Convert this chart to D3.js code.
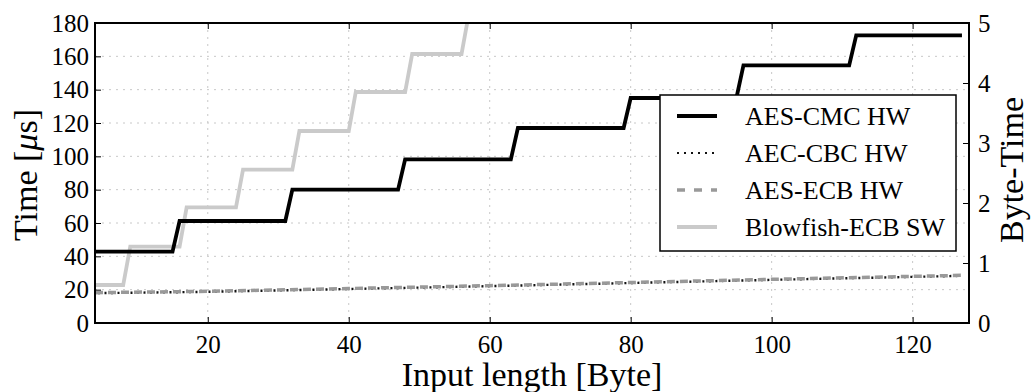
<!DOCTYPE html>
<html>
<head>
<meta charset="utf-8">
<script src="https://cdn.jsdelivr.net/npm/d3@7"></script>
<style>
  html, body { margin: 0; padding: 0; background: #fff; }
  svg text { font-family: "Liberation Serif", "Times New Roman", serif; fill: #000; }
</style>
</head>
<body>
<div id="chart"></div>
<script>
// values
var xTicks = [20, 40, 60, 80, 100, 120];
var yTicks = [0, 20, 40, 60, 80, 100, 120, 140, 160, 180];
var yRightTicks = [0, 1, 2, 3, 4, 5];

var seriesNames = ["AES-CMC HW", "AEC-CBC HW", "AES-ECB HW", "Blowfish-ECB SW"];

var cmcX = [4, 15, 16, 31, 32, 47, 48, 63, 64, 79, 80, 95, 96, 111, 112, 127];
var cmcY = [42.8, 42.8, 61.2, 61.2, 80.0, 80.0, 98.2, 98.2, 117.0, 117.0, 135.0, 135.0, 154.6, 154.6, 172.6, 172.6];

var cbcX = [4, 20, 40, 60, 80, 100, 127];
var cbcY = [17.9, 18.7, 20.4, 22.1, 24.0, 25.9, 28.3];

var ecbX = [4, 20, 40, 60, 80, 100, 127];
var ecbY = [18.2, 19.0, 20.7, 22.4, 24.3, 26.2, 28.6];

var blowX = [4, 8, 9, 16, 17, 24, 25, 32, 33, 40, 41, 48, 49, 56, 57];
var blowY = [22.8, 22.8, 45.8, 45.8, 69.4, 69.4, 92.0, 92.0, 115.2, 115.2, 138.6, 138.6, 161.4, 161.4, 184.6];

var FONT = "'Liberation Serif', 'Times New Roman', serif";
var W = 1032, H = 392;
var margin = { left: 95, right: 63, top: 23, bottom: 69 };
var iw = W - margin.left - margin.right;
var ih = H - margin.top - margin.bottom;

var svg = d3.select("#chart").append("svg")
  .attr("width", W)
  .attr("height", H)
  .attr("font-family", FONT);

var g = svg.append("g")
  .attr("transform", "translate(" + margin.left + "," + margin.top + ")");

var x = d3.scaleLinear().domain([4, 128]).range([0, iw]);
var y = d3.scaleLinear().domain([0, 180]).range([ih, 0]);
var yR = d3.scaleLinear().domain([0, 5]).range([ih, 0]);

// grid
g.append("g").selectAll("line")
  .data(xTicks)
  .enter().append("line")
  .attr("x1", function(d) { return x(d); })
  .attr("x2", function(d) { return x(d); })
  .attr("y1", 0).attr("y2", ih)
  .attr("stroke", "#c8c8c8")
  .attr("stroke-width", 1)
  .attr("stroke-dasharray", "2,5");

g.append("g").selectAll("line")
  .data(yTicks.filter(function(d) { return d > 0 && d < 180; }))
  .enter().append("line")
  .attr("x1", 0).attr("x2", iw)
  .attr("y1", function(d) { return y(d); })
  .attr("y2", function(d) { return y(d); })
  .attr("stroke", "#c8c8c8")
  .attr("stroke-width", 1)
  .attr("stroke-dasharray", "2,5");

// lines
g.append("clipPath").attr("id", "clip")
  .append("rect").attr("width", iw).attr("height", ih);

var line = d3.line()
  .x(function(d) { return x(d[0]); })
  .y(function(d) { return y(d[1]); });

function pairs(xs, ys) {
  return xs.map(function(v, i) { return [v, ys[i]]; });
}

var series = [
  { name: seriesNames[1], pts: pairs(cbcX, cbcY), color: "#111", width: 2.4, dash: "2,4.5", offset: 3.5 },
  { name: seriesNames[2], pts: pairs(ecbX, ecbY), color: "#999", width: 3.5, dash: "8,5", offset: 0 },
  { name: seriesNames[3], pts: pairs(blowX, blowY), color: "#cacaca", width: 3.8, dash: null, offset: 0 },
  { name: seriesNames[0], pts: pairs(cmcX, cmcY), color: "#000", width: 3.8, dash: null, offset: 0 }
];

var lines = g.append("g").attr("clip-path", "url(#clip)");
series.forEach(function(s) {
  lines.append("path")
    .datum(s.pts)
    .attr("fill", "none")
    .attr("stroke", s.color)
    .attr("stroke-width", s.width)
    .attr("stroke-dasharray", s.dash)
    .attr("stroke-dashoffset", s.offset)
    .attr("d", line);
});

// axes
var xAxis = g.append("g")
  .attr("transform", "translate(0," + ih + ")")
  .call(d3.axisBottom(x).tickValues(xTicks).tickSize(-6).tickPadding(12));
var xTop = g.append("g")
  .call(d3.axisTop(x).tickValues(xTicks).tickSize(-6).tickFormat(""));
var yAxis = g.append("g")
  .call(d3.axisLeft(y).tickValues(yTicks).tickSize(-6).tickPadding(6));
var yRAxis = g.append("g")
  .attr("transform", "translate(" + iw + ",0)")
  .call(d3.axisRight(yR).tickValues(yRightTicks).tickSize(-6).tickPadding(9)
    .tickFormat(d3.format("d")));

[xAxis, xTop, yAxis, yRAxis].forEach(function(a) {
  a.attr("font-family", null).attr("font-size", null);
  a.select(".domain").remove();
  a.selectAll(".tick line").attr("stroke", "#000").attr("stroke-width", 1);
  a.selectAll("text")
    .style("font-family", FONT)
    .style("font-size", "25px");
});
xAxis.selectAll("text").attr("dy", "0.71em");

g.append("rect")
  .attr("width", iw).attr("height", ih)
  .attr("fill", "none")
  .attr("stroke", "#000")
  .attr("stroke-width", 2);

// axis titles
svg.append("text")
  .attr("x", margin.left + iw / 2)
  .attr("y", 386)
  .attr("text-anchor", "middle")
  .attr("font-size", 34)
  .text("Input length [Byte]");

svg.append("text")
  .attr("transform", "translate(37,175) rotate(-90)")
  .attr("text-anchor", "middle")
  .attr("font-size", 34)
  .html("Time [<tspan font-style='italic'>μ</tspan>s]");

svg.append("text")
  .attr("transform", "translate(1023,170) rotate(-90)")
  .attr("text-anchor", "middle")
  .attr("font-size", 34)
  .text("Byte-Time");

// legend
var legendOrder = [
  { name: seriesNames[0], color: "#000", width: 4, dash: null },
  { name: seriesNames[1], color: "#111", width: 2, dash: "2,5" },
  { name: seriesNames[2], color: "#999", width: 3.5, dash: "8,9" },
  { name: seriesNames[3], color: "#cacaca", width: 3.8, dash: null }
];

var lg = svg.append("g").attr("transform", "translate(660,95)");
lg.append("rect")
  .attr("width", 296).attr("height", 156)
  .attr("fill", "#fff")
  .attr("stroke", "#000")
  .attr("stroke-width", 1.5);

var rows = lg.selectAll("g.row")
  .data(legendOrder)
  .enter().append("g")
  .attr("transform", function(d, i) { return "translate(0," + (21 + i * 37) + ")"; });

rows.append("line")
  .attr("x1", 17).attr("x2", 57)
  .attr("stroke", function(d) { return d.color; })
  .attr("stroke-width", function(d) { return d.width; })
  .attr("stroke-dasharray", function(d) { return d.dash; });

rows.append("text")
  .attr("x", 85)
  .attr("dy", "0.35em")
  .attr("font-size", 26)
  .text(function(d) { return d.name; });
</script>
</body>
</html>
